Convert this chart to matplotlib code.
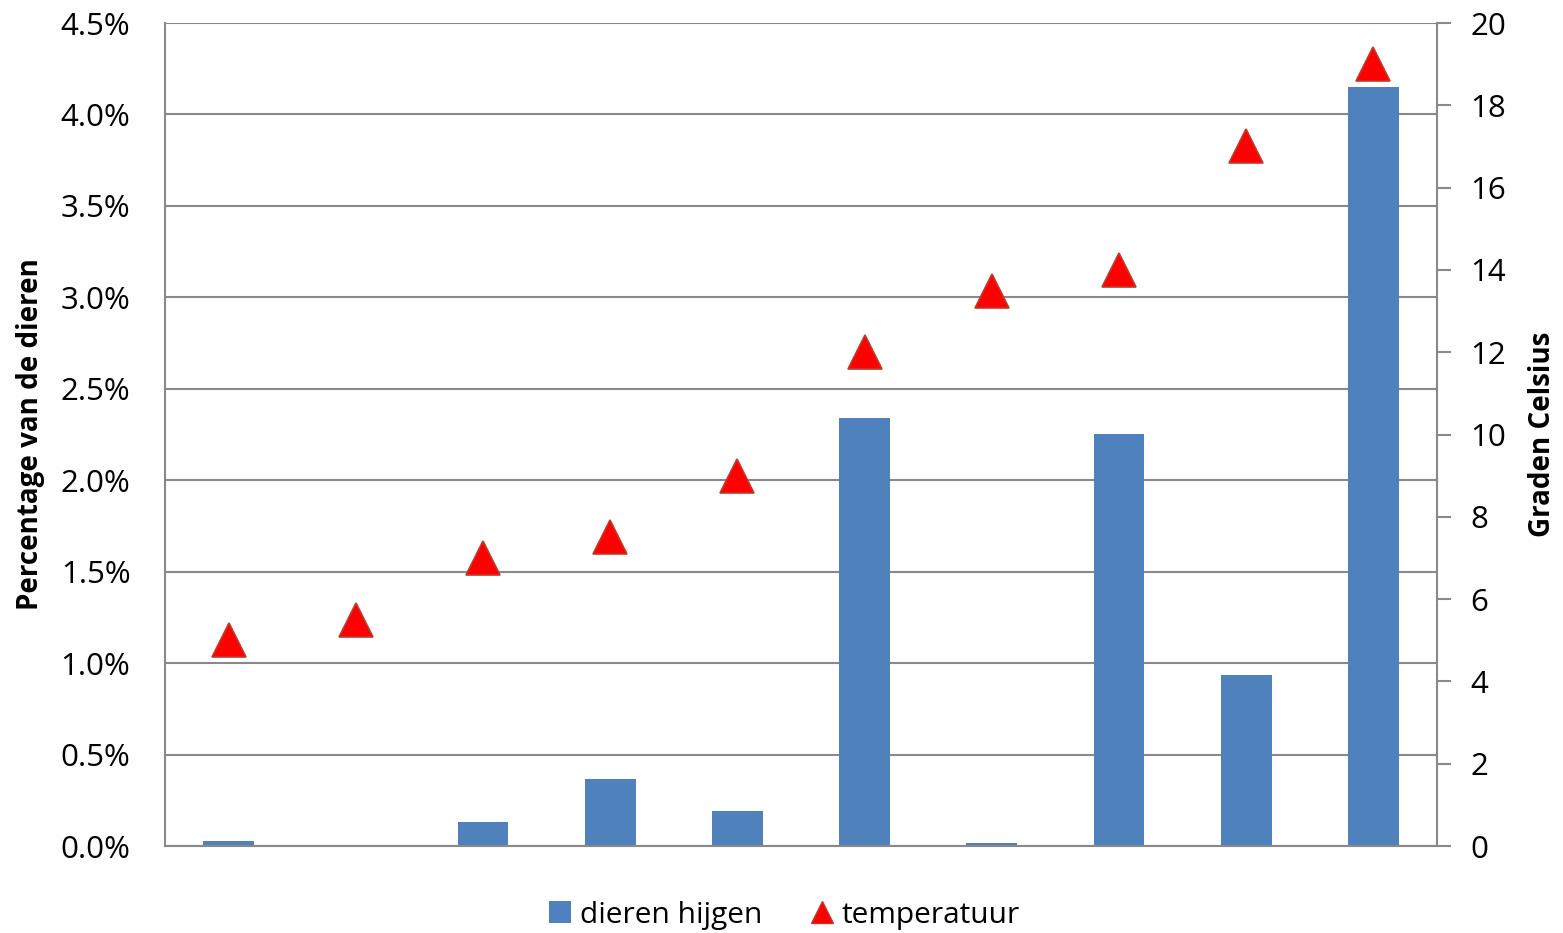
import numpy as np
import matplotlib.pyplot as plt
from matplotlib.ticker import FuncFormatter, MultipleLocator
from matplotlib.lines import Line2D
from matplotlib.patches import Patch

plt.rcParams['font.family'] = ['Open Sans', 'DejaVu Sans']

# data
categories = list(range(1, 11))
hijgen_pct = [0.027, 0.0, 0.13, 0.365, 0.19, 2.34, 0.016, 2.255, 0.935, 4.15]
temperatuur = [5, 5.5, 7, 7.5, 9, 12, 13.5, 14, 17, 19]

bar_color = '#4F81BD'
axis_gray = '#898989'

fig = plt.figure(figsize=(15.63, 9.33), dpi=100)
ax = fig.add_axes([0.1056, 0.0932, 0.8138, 0.8821])
ax2 = ax.twinx()

x = np.arange(len(categories))
ax.bar(x, hijgen_pct, width=0.4, color=bar_color, zorder=2)
ax.set_xlim(-0.5, len(categories) - 0.5)
ax.set_ylim(0, 4.5)
ax.yaxis.set_major_locator(MultipleLocator(0.5))
ax.yaxis.set_major_formatter(FuncFormatter(lambda v, p: f'{v:.1f}%'))
ax.grid(axis='y', color=axis_gray, linewidth=1.5, zorder=0)
ax.set_axisbelow(True)
ax.set_xticks([])
ax.tick_params(axis='y', length=0, pad=25, labelsize=22.5)
ax.set_ylabel('Percentage van de dieren', fontsize=20, fontweight='bold', labelpad=11)

ax2.plot(x, temperatuur, linestyle='none', marker='^', markersize=24,
         markerfacecolor='#FF0000', markeredgecolor='#C0392B', markeredgewidth=1.2, zorder=3)
ax2.set_ylim(0, 20)
ax2.yaxis.set_major_locator(MultipleLocator(2))
ax2.tick_params(axis='y', length=10, width=1.5, color=axis_gray, pad=14, labelsize=22.5)
ax2.set_ylabel('Graden Celsius', fontsize=20, fontweight='bold', labelpad=16)

for a in (ax, ax2):
    a.spines['top'].set_visible(False)
    for s in ('left', 'right', 'bottom'):
        a.spines[s].set_color(axis_gray)
        a.spines[s].set_linewidth(1.5)
ax.spines['right'].set_visible(False)
ax2.spines['left'].set_visible(False)
ax2.spines['bottom'].set_visible(False)

handles = [Patch(facecolor=bar_color, edgecolor='none'),
           Line2D([], [], linestyle='none', marker='^', markersize=16,
                  markerfacecolor='#FF0000', markeredgecolor='#C0392B')]
fig.legend(handles, ['dieren hijgen', 'temperatuur'], loc='center',
           bbox_to_anchor=(0.502, 0.019), ncol=2, frameon=False, fontsize=21.5,
           handlelength=0.75, handleheight=0.75, handletextpad=0.3, columnspacing=1.6)

fig.savefig('out.png', dpi=100)
